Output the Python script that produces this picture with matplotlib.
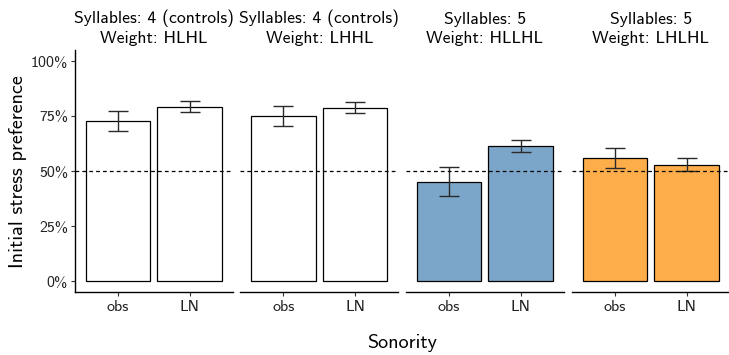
import matplotlib
matplotlib.use("Agg")
import matplotlib.pyplot as plt
import numpy as np

plt.rcParams["font.family"] = ["cmss10", "DejaVu Sans"]
plt.rcParams["axes.unicode_minus"] = False

# data
panel_titles = [
    "Syllables: 4 (controls)\nWeight: HLHL",
    "Syllables: 4 (controls)\nWeight: LHHL",
    "Syllables: 5\nWeight: HLLHL",
    "Syllables: 5\nWeight: LHLHL",
]
categories = ["obs", "LN"]
means = [
    [0.728, 0.792],
    [0.751, 0.787],
    [0.451, 0.615],
    [0.560, 0.529],
]
err_low = [
    [0.683, 0.769],
    [0.706, 0.765],
    [0.385, 0.588],
    [0.513, 0.499],
]
err_high = [
    [0.774, 0.819],
    [0.796, 0.814],
    [0.516, 0.641],
    [0.603, 0.558],
]
fill_colors = ["white", "white", "#7ba6c9", "#fdae4b"]
y_ticks = [0, 0.25, 0.5, 0.75, 1.0]
y_ticklabels = ["0%", "25%", "50%", "75%", "100%"]

W, H = 729, 355
fig = plt.figure(figsize=(W / 100, H / 100), dpi=100)

lefts = [75, 240.5, 406, 572]
pw = 157.5
bottom_px, top_px = 292, 50

for i in range(4):
    ax = fig.add_axes([lefts[i] / W, 1 - bottom_px / H, pw / W, (bottom_px - top_px) / H])
    x = np.arange(1, 3)
    m = np.array(means[i])
    lo = m - np.array(err_low[i])
    hi = np.array(err_high[i]) - m
    ax.bar(x, m, width=0.9, color=fill_colors[i], edgecolor="black", linewidth=0.9, zorder=2)
    ax.errorbar(x, m, yerr=[lo, hi], fmt="none", ecolor="#2a2a2a", elinewidth=1.0,
                capsize=7.3, capthick=1.0, zorder=3)
    ax.axhline(0.5, color="black", linestyle=(0, (3, 2.5)), linewidth=0.9, zorder=4)

    ax.set_xlim(0.4, 2.6)
    ax.set_ylim(-0.05, 1.05)
    ax.set_xticks(x)
    ax.set_xticklabels(categories, fontsize=11.5)
    ax.tick_params(axis="x", length=3, width=0.8, colors="#333333", labelcolor="#222222", pad=3)

    for side in ["top", "right"]:
        ax.spines[side].set_visible(False)
    ax.spines["bottom"].set_linewidth(1.0)
    if i == 0:
        ax.set_yticks(y_ticks)
        ax.set_yticklabels(y_ticklabels, fontsize=11.5)
        ax.tick_params(axis="y", length=3, width=0.8, colors="#333333", labelcolor="#222222", pad=2)
        ax.spines["left"].set_linewidth(1.0)
    else:
        ax.spines["left"].set_visible(False)
        ax.set_yticks([])

    ax.set_title(panel_titles[i], fontsize=12.7, linespacing=1.3, pad=5)

fig.text(18 / W, 1 - 172 / H, "Initial stress preference", rotation=90,
         ha="center", va="center", fontsize=14.5)
fig.text(402 / W, 1 - 343 / H, "Sonority", ha="center", va="center", fontsize=14.5)

fig.savefig("out.png", dpi=100, facecolor="white")
